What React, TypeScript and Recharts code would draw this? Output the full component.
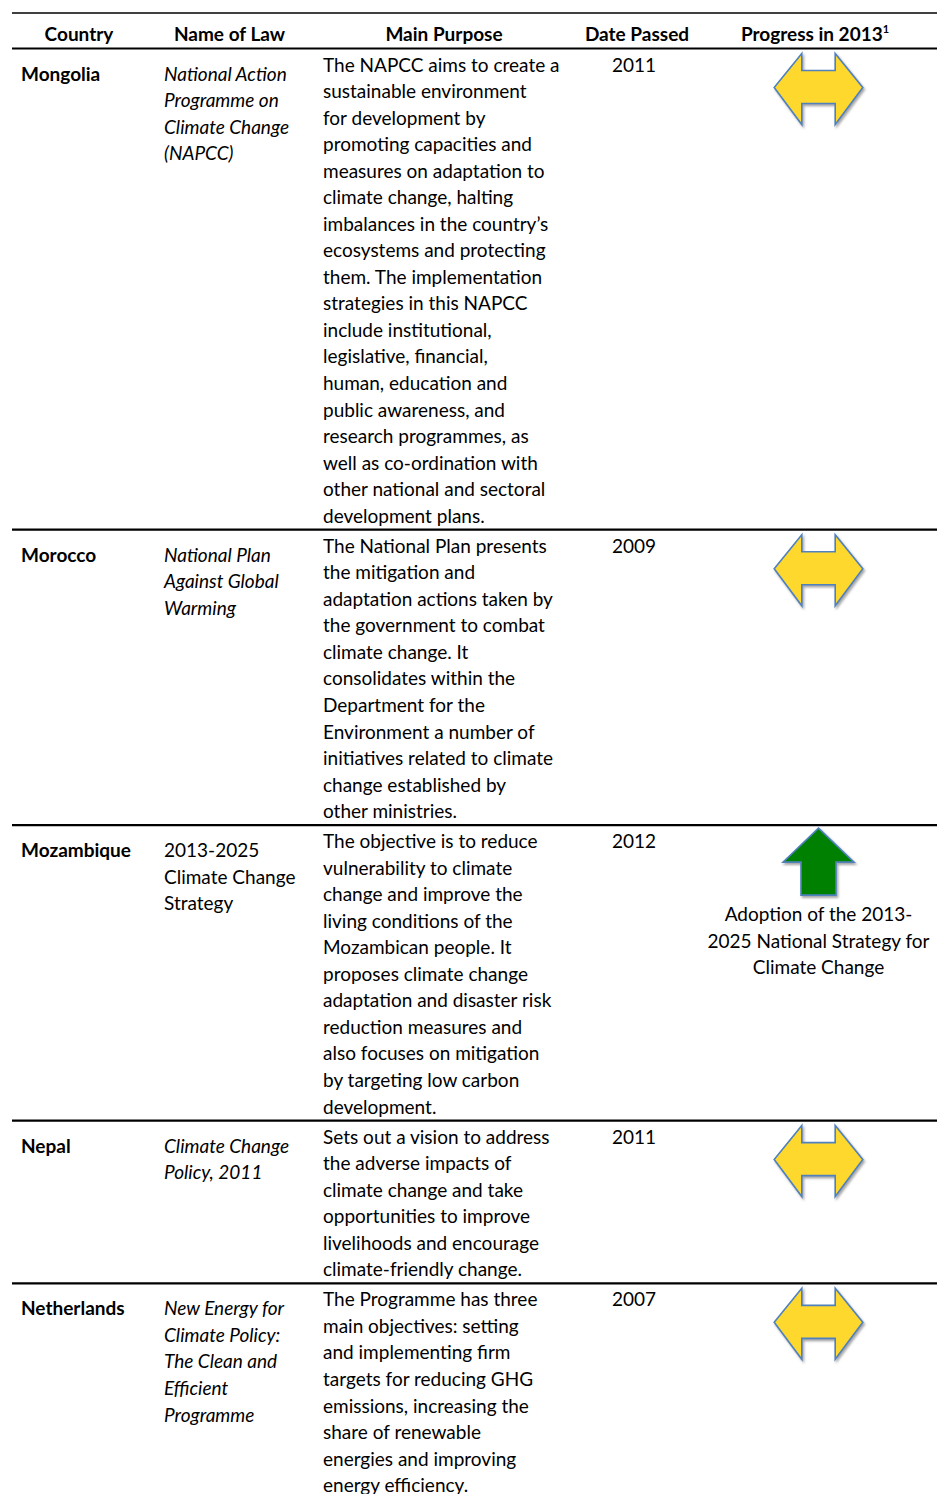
import React from 'react';
import { ScatterChart, Scatter, XAxis, YAxis, ReferenceLine } from 'recharts';

if (typeof document !== 'undefined') {
  document.body.style.margin = '0';
}

// ---------- DATA ----------
const headers = ['Country', 'Name of Law', 'Main Purpose', 'Date Passed', 'Progress in 2013'];
const headerFootnote = '1';

const countries = ['Mongolia', 'Morocco', 'Mozambique', 'Nepal', 'Netherlands'];

const lawNames: string[][] = [
  ['National Action', 'Programme on', 'Climate Change', '(NAPCC)'],
  ['National Plan', 'Against Global', 'Warming'],
  ['2013-2025', 'Climate Change', 'Strategy'],
  ['Climate Change', 'Policy, 2011'],
  ['New Energy for', 'Climate Policy:', 'The Clean and', 'Efficient', 'Programme'],
];
const lawItalic = [true, true, false, true, true];

const purposes: string[][] = [
  [
    'The NAPCC aims to create a',
    'sustainable environment',
    'for development by',
    'promoting capacities and',
    'measures on adaptation to',
    'climate change, halting',
    'imbalances in the country’s',
    'ecosystems and protecting',
    'them. The implementation',
    'strategies in this NAPCC',
    'include institutional,',
    'legislative, financial,',
    'human, education and',
    'public awareness, and',
    'research programmes, as',
    'well as co-ordination with',
    'other national and sectoral',
    'development plans.',
  ],
  [
    'The National Plan presents',
    'the mitigation and',
    'adaptation actions taken by',
    'the government to combat',
    'climate change. It',
    'consolidates within the',
    'Department for the',
    'Environment a number of',
    'initiatives related to climate',
    'change established by',
    'other ministries.',
  ],
  [
    'The objective is to reduce',
    'vulnerability to climate',
    'change and improve the',
    'living conditions of the',
    'Mozambican people. It',
    'proposes climate change',
    'adaptation and disaster risk',
    'reduction measures and',
    'also focuses on mitigation',
    'by targeting low carbon',
    'development.',
  ],
  [
    'Sets out a vision to address',
    'the adverse impacts of',
    'climate change and take',
    'opportunities to improve',
    'livelihoods and encourage',
    'climate-friendly change.',
  ],
  [
    'The Programme has three',
    'main objectives: setting',
    'and implementing firm',
    'targets for reducing GHG',
    'emissions, increasing the',
    'share of renewable',
    'energies and improving',
    'energy efficiency.',
  ],
];

const datesPassed = ['2011', '2009', '2012', '2011', '2007'];
const progressKinds = ['same', 'same', 'up', 'same', 'same'];
const progressNotes: string[][] = [
  [],
  [],
  ['Adoption of the 2013-', '2025 National Strategy for', 'Climate Change'],
  [],
  [],
];

// ---------- LAYOUT ----------
const W = 937;
const H = 1494;
const PITCH = 26.54; // px per text line
const HEADER_BOTTOM_PX = 48.5;
const TOP_LINE_PX = 13;
const ROW_PAD = 3.5 / PITCH;
const BASE_OFF = 23 / PITCH;
const SIDE_OFF = 9 / PITCH;
const NOTE_OFF = 3.62;
const HEADER_BASE = (41 - HEADER_BOTTOM_PX) / PITCH;

const COL_X = { country: 21, law: 164, purpose: 323, date: 612, progress: 818.5 };
const HEADER_X = [79, 229.5, 444, 637, 815];

const FONT = 'Lato, "Open Sans", sans-serif';
const FS = 19;

const rowStarts: number[] = [];
{
  let acc = 0;
  purposes.forEach((p) => {
    rowStarts.push(acc);
    acc += p.length + ROW_PAD;
  });
}

const Y_MIN = -HEADER_BOTTOM_PX / PITCH;
const Y_MAX = (H - HEADER_BOTTOM_PX) / PITCH;
const TOP_LINE_Y = (TOP_LINE_PX - HEADER_BOTTOM_PX) / PITCH;

type Cell = { x: number; y: number; text: string; weight?: string; italic?: boolean; anchor?: string; sup?: string };

const headerCells: Cell[] = headers.map((h, i) => ({
  x: HEADER_X[i],
  y: HEADER_BASE,
  text: h,
  weight: 'bold',
  anchor: 'middle',
  sup: i === headers.length - 1 ? headerFootnote : undefined,
}));

const countryCells: Cell[] = countries.map((c, i) => ({
  x: COL_X.country,
  y: rowStarts[i] + BASE_OFF + SIDE_OFF,
  text: c,
  weight: 'bold',
}));

const lawCells: Cell[] = lawNames.flatMap((lines, i) =>
  lines.map((t, j) => ({
    x: COL_X.law,
    y: rowStarts[i] + BASE_OFF + SIDE_OFF + j,
    text: t,
    italic: lawItalic[i],
  }))
);

const purposeCells: Cell[] = purposes.flatMap((lines, i) =>
  lines.map((t, j) => ({ x: COL_X.purpose, y: rowStarts[i] + BASE_OFF + j, text: t }))
);

const dateCells: Cell[] = datesPassed.map((d, i) => ({ x: COL_X.date, y: rowStarts[i] + BASE_OFF, text: d }));

const noteCells: Cell[] = progressNotes.flatMap((lines, i) =>
  lines.map((t, j) => ({
    x: COL_X.progress,
    y: rowStarts[i] + NOTE_OFF + j,
    text: t,
    anchor: 'middle',
  }))
);

const arrowPoints = progressKinds.map((k, i) => ({ x: COL_X.progress, y: rowStarts[i], kind: k }));

// ---------- SHAPES ----------
const TextShape = (props: any) => {
  const { cx, cy, payload } = props;
  if (cx == null || cy == null) return null;
  return (
    <text
      x={cx}
      y={cy}
      fontFamily={FONT}
      fontSize={FS}
      fontWeight={payload.weight || 'normal'}
      fontStyle={payload.italic ? 'italic' : 'normal'}
      textAnchor={payload.anchor || 'start'}
      fill="#000"
    >
      {payload.text}
      {payload.sup ? (
        <tspan fontSize={11} dy={-8}>
          {payload.sup}
        </tspan>
      ) : null}
    </text>
  );
};

const ArrowShape = (props: any) => {
  const { cx, cy, payload, index } = props;
  if (cx == null || cy == null) return null;
  const t = cy;
  let d = '';
  let fill = '#FFD82F';
  if (payload.kind === 'up') {
    fill = '#008000';
    d = [
      `M ${cx} ${t + 3}`,
      `L ${cx + 35.5} ${t + 37}`,
      `L ${cx + 17.5} ${t + 37}`,
      `L ${cx + 17.5} ${t + 70}`,
      `L ${cx - 17.5} ${t + 70}`,
      `L ${cx - 17.5} ${t + 37}`,
      `L ${cx - 35.5} ${t + 37}`,
      'Z',
    ].join(' ');
  } else {
    d = [
      `M ${cx - 44.3} ${t + 39}`,
      `L ${cx - 16.7} ${t + 5}`,
      `L ${cx - 16.7} ${t + 22}`,
      `L ${cx + 16.7} ${t + 22}`,
      `L ${cx + 16.7} ${t + 5}`,
      `L ${cx + 44.3} ${t + 39}`,
      `L ${cx + 16.7} ${t + 76}`,
      `L ${cx + 16.7} ${t + 55}`,
      `L ${cx - 16.7} ${t + 55}`,
      `L ${cx - 16.7} ${t + 76}`,
      'Z',
    ].join(' ');
  }
  const fid = `arrowShadow${index}`;
  return (
    <g>
      <defs>
        <filter id={fid} x="-20%" y="-20%" width="140%" height="140%">
          <feDropShadow dx="1.5" dy="2" stdDeviation="1.2" floodColor="#808080" floodOpacity="0.7" />
        </filter>
      </defs>
      <path d={d} fill={fill} stroke="#4F81BD" strokeWidth={1.6} strokeLinejoin="miter" filter={`url(#${fid})`} />
    </g>
  );
};

export default function App() {
  return (
    <div style={{ width: W, height: H, background: '#fff' }}>
      <ScatterChart width={W} height={H} margin={{ top: 0, right: 0, bottom: 0, left: 12 }}>
        <XAxis type="number" dataKey="x" domain={[12, W]} hide allowDataOverflow />
        <YAxis type="number" dataKey="y" domain={[Y_MIN, Y_MAX]} reversed hide allowDataOverflow />
        <ReferenceLine y={TOP_LINE_Y} stroke="#000" strokeWidth={1.3} />
        <ReferenceLine y={0} stroke="#000" strokeWidth={2.2} />
        {rowStarts.slice(1).map((r, i) => (
          <ReferenceLine key={i} y={r} stroke="#000" strokeWidth={2.2} />
        ))}
        <Scatter data={arrowPoints} shape={<ArrowShape />} isAnimationActive={false} />
        <Scatter data={headerCells} shape={<TextShape />} isAnimationActive={false} />
        <Scatter data={countryCells} shape={<TextShape />} isAnimationActive={false} />
        <Scatter data={lawCells} shape={<TextShape />} isAnimationActive={false} />
        <Scatter data={purposeCells} shape={<TextShape />} isAnimationActive={false} />
        <Scatter data={dateCells} shape={<TextShape />} isAnimationActive={false} />
        <Scatter data={noteCells} shape={<TextShape />} isAnimationActive={false} />
      </ScatterChart>
    </div>
  );
}
